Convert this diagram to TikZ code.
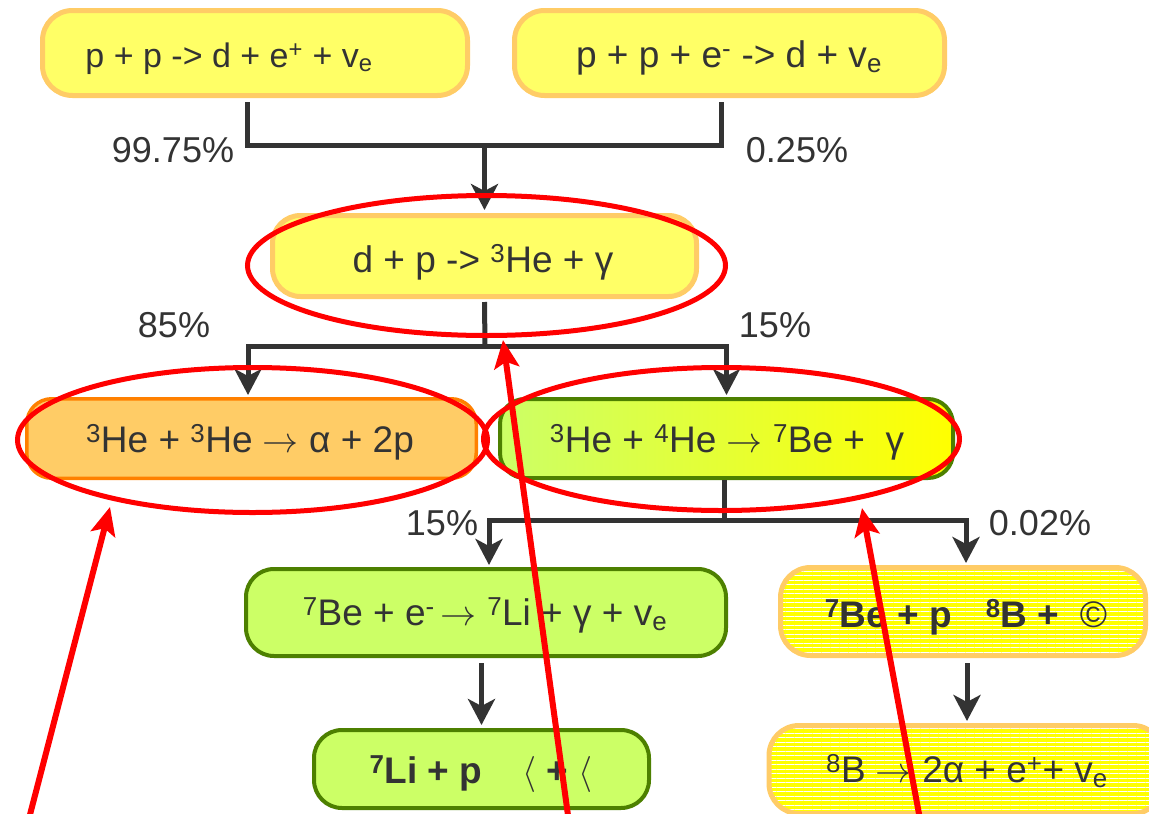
\documentclass[tikz,border=0pt]{standalone}
\usepackage{graphicx}
\usepackage{fontspec}
\setmainfont{Liberation Sans}
\usetikzlibrary{arrows.meta,patterns.meta}
\definecolor{ink}{HTML}{333333}
\definecolor{paleyellow}{HTML}{FFFF66}
\definecolor{sand}{HTML}{FFCC66}
\definecolor{tangerine}{HTML}{FF8000}
\definecolor{lime}{HTML}{CCFF66}
\definecolor{leaf}{HTML}{4D8000}
\definecolor{lemon}{HTML}{FFFF00}
\definecolor{alert}{HTML}{FF0000}
\newcommand\upx[1]{\textsuperscript{#1}}
\newcommand\dnx[1]{\textsubscript{#1}}
% thin math symbols blown up to the text size
\newcommand\yields{\scalebox{3.6}{\normalsize$\rightarrow$}}
\newcommand\lang{\scalebox{3.6}{\normalsize$\langle$}}
\begin{document}
\begin{tikzpicture}[x=1pt,y=-1pt,
  box/.style={rectangle, inner sep=0pt},
  yellowbox/.style={box, rounded corners=30pt, fill=paleyellow, draw=sand, line width=5pt},
  orangebox/.style={box, rounded corners=25pt, fill=sand, draw=tangerine, line width=3.5pt},
  greenbox/.style={box, rounded corners=28pt, fill=lime, draw=leaf, line width=4pt},
  shadedbox/.style={box, rounded corners=25pt, left color=lime, right color=lemon, draw=leaf, line width=4pt},
  stripebox/.style={box, rounded corners=30pt, preaction={fill=lemon},
    pattern={Lines[angle=0, distance=4.5pt, line width=0.9pt]}, pattern color=white,
    draw=sand, line width=5pt},
  txt/.style={text=ink, font=\fontsize{37}{44}\selectfont, inner sep=0pt, anchor=base},
  pct/.style={txt, font=\fontsize{36}{43}\selectfont},
  conn/.style={draw=ink, line width=5pt, line join=miter},
  arr/.style={conn, -{Stealth[length=26pt, width=27pt, inset=7pt]}},
  ring/.style={draw=alert, line width=5pt},
  pointer/.style={draw=alert, line width=6pt, -{Stealth[length=28pt, width=25pt, inset=6pt]}},
]
\useasboundingbox[fill=white] (0,0) rectangle (1149,814);
\clip (0,0) rectangle (1149,814);

% junctions of the branching connectors
\coordinate (j1) at (484.5,145);
\coordinate (j2) at (485,346);
\coordinate (j3) at (724,520);

% reaction boxes
\node[yellowbox, minimum width=425pt, minimum height=85pt] (A) at (255,53) {};
\node[yellowbox, minimum width=430pt, minimum height=85pt] (B) at (729.5,53) {};
\node[yellowbox, rounded corners=28pt, minimum width=424pt, minimum height=81pt] (C) at (484.5,256) {};
\node[orangebox, minimum width=449.5pt, minimum height=79.5pt] (D) at (251.5,438.5) {};
\node[shadedbox, minimum width=453pt, minimum height=79pt] (E) at (726.5,438.5) {};
\node[greenbox, minimum width=480pt, minimum height=87pt] (F) at (486,612.5) {};
\node[greenbox, minimum width=335pt, minimum height=78pt] (G) at (481.5,769) {};
\node[stripebox, minimum width=365pt, minimum height=88pt] (H) at (963,611.5) {};
\node[stripebox, minimum width=394pt, minimum height=88pt] (I) at (966,769.5) {};

% connectors
\draw[conn] ([xshift=-8pt,yshift=-4pt]A.south) |- (j1) -| ([xshift=-8.5pt,yshift=-4pt]B.south);
\draw[arr] (j1) -- ([yshift=3pt]C.north);
\draw[conn] ([yshift=-3pt]C.south) -- (j2);
\draw[arr] (j2) -| ([xshift=-3.5pt,yshift=2pt]D.north);
\draw[arr] (j2) -| ([yshift=2pt]E.north);
\draw[conn] ([xshift=-2.5pt]E.south) -- (j3);
\draw[arr] (j3) -| ([xshift=3pt,yshift=2pt]F.north);
\draw[arr] (j3) -| ([xshift=3pt,yshift=2pt]H.north);
\draw[arr] ([yshift=-5pt]F.south -| G.north) -- ([yshift=3pt]G.north);
\draw[arr] ([xshift=4pt,yshift=-5pt]H.south) -- ([xshift=1pt,yshift=2pt]I.north);

% reaction texts
\node[txt, font=\fontsize{34}{41}\selectfont] (tA) at (229,67) {p + p -> d + e\upx{+} + v\dnx{e}};
\node[txt] (tB) at (729,67) {p + p + e\upx{-} -> d + v\dnx{e}};
\node[txt] (tC) at (483,272) {d + p -> \upx{3}He + γ};
\node[txt] (tD) at (250,452) {\upx{3}He + \upx{3}He \yields{} α + 2p};
\node[txt] (tE) at (727,452) {\upx{3}He + \upx{4}He \yields{} \upx{7}Be + \ γ};
\node[txt] (tF) at (485,625) {\upx{7}Be + e\upx{-}\,\yields{} \upx{7}Li + γ + v\dnx{e}};
\node[txt] (tG) at (481,783) {\textbf{\upx{7}Li + p}\hspace{40pt}\lang{} \textbf{+} \lang};
\node[txt] (tH) at (966,627) {\textbf{\upx{7}Be + p}\hspace{34pt}\textbf{\upx{8}B + }\hspace{10pt}©};
\node[txt] (tI) at (967,782) {\upx{8}B \yields{} 2α + e\upx{+}+ v\dnx{e}};

% branching ratios
\node[pct] (l1) at (173,162) {99.75\%};
\node[pct] (l2) at (797,162) {0.25\%};
\node[pct] (l3) at (174,337) {85\%};
\node[pct] (l4) at (775,337) {15\%};
\node[pct] (l5) at (442,535) {15\%};
\node[pct] (l6) at (1040,535) {0.02\%};

% red highlight rings
\draw[ring] (486.5,265.5) ellipse [x radius=239pt, y radius=70pt];
\draw[ring] (252.5,440) ellipse [x radius=235pt, y radius=72.5pt];
\draw[ring] (721.5,439) ellipse [x radius=238pt, y radius=71.5pt];

% red pointers
\coordinate (p1s) at (26,830);  \coordinate (p1t) at (110,507);
\coordinate (p2s) at (570,830); \coordinate (p2t) at (503,340);
\coordinate (p3s) at (922,830); \coordinate (p3t) at (862,508);
\draw[pointer] (p1s) -- (p1t);
\draw[pointer] (p2s) -- (p2t);
\draw[pointer] (p3s) -- (p3t);
\end{tikzpicture}
\end{document}
